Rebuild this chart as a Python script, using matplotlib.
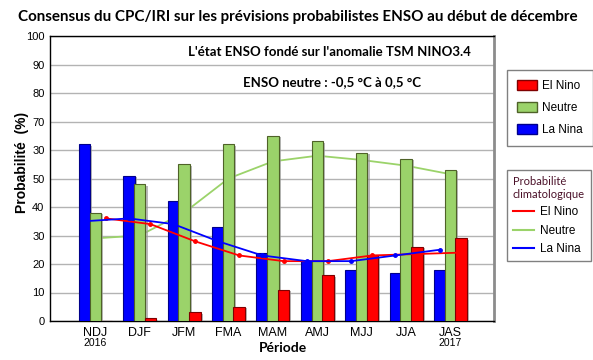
import matplotlib
matplotlib.use("Agg")
import matplotlib.pyplot as plt
import matplotlib.patheffects as pe
from matplotlib.patches import Patch
from matplotlib.lines import Line2D
import numpy as np

# ---- data ----
categories = ["NDJ", "DJF", "JFM", "FMA", "MAM", "AMJ", "MJJ", "JJA", "JAS"]
la_nina = [62, 51, 42, 33, 24, 21, 18, 17, 18]
neutre = [38, 48, 55, 62, 65, 63, 59, 57, 53]
el_nino = [0, 1, 3, 5, 11, 16, 23, 26, 29]
clim_el_nino = [36, 34, 28, 23, 21, 21, 23, 23.5, 24]
clim_neutre = [29, 30, 38, 50, 56, 58, 56.5, 54.5, 51.5]
clim_la_nina = [35, 36, 34, 28, 23, 21, 21, 23, 25]
ytick_values = [0, 10, 20, 30, 40, 50, 60, 70, 80, 90, 100]
ytick_labels = ["0", "10", "20", "30", "40", "50", "30", "70", "80", "90", "100"]
year_labels = {0: "2016", 8: "2017"}

RED = "#FF0000"
GREEN = "#9BD36A"
BLUE = "#0000FF"

fig = plt.figure(figsize=(5.93, 3.60), dpi=100)
ax = fig.add_axes([50/593, 1-321/360, (494-50)/593, (321-36)/360])

x = np.arange(len(categories))
w = 0.26
off = 0.24
shadow = [pe.SimplePatchShadow(offset=(1.5, -1.0), shadow_rgbFace="#9a9a9a", alpha=0.7), pe.Normal()]

ax.bar(x - off, la_nina, w, color=BLUE, edgecolor="#00008B", linewidth=0.8, zorder=3, path_effects=shadow)
ax.bar(x, neutre, w, color=GREEN, edgecolor="#4F6228", linewidth=0.8, zorder=3, path_effects=shadow)
ax.bar(x + off, el_nino, w, color=RED, edgecolor="#7F0000", linewidth=0.8, zorder=3.2, path_effects=shadow)

ax.plot(x, clim_neutre, color=GREEN, lw=1.3, zorder=2.5)
ax.plot(x + off, clim_el_nino, color=RED, lw=1.3, marker="o", ms=2.5, zorder=4)
ax.plot(x - off, clim_la_nina, color=BLUE, lw=1.3, marker="o", ms=2.5, zorder=4)

ax.set_xlim(-1.02, 8.98)
ax.set_ylim(0, 100)
ax.set_yticks(ytick_values)
ax.set_yticklabels(ytick_labels, fontsize=8, family="Liberation Sans")
ax.set_xticks(x)
ax.set_xticklabels(categories, fontsize=9, family="Liberation Sans")
ax.tick_params(axis="both", length=0, pad=4)
ax.yaxis.grid(True, color="#b3b3b3", lw=1.0, zorder=0)
ax.set_axisbelow(True)
for s in ["left", "bottom", "top"]:
    ax.spines[s].set_color("black")
    ax.spines[s].set_linewidth(1.0)
ax.spines["right"].set_color("#8c8c8c")
ax.spines["right"].set_linewidth(2.0)

for i, lab in year_labels.items():
    ax.text(x[i], -0.077, lab, transform=ax.get_xaxis_transform(), ha="center", va="center",
            fontsize=7.5, family="Liberation Sans")

fig.text(0.502, 1-17/360, "Consensus du CPC/IRI sur les prévisions probabilistes ENSO au début de décembre",
         ha="center", va="center", fontsize=10.9, fontweight="bold", family="Lato")
fig.text(329/593, 1-52/360, "L'état ENSO fondé sur l'anomalie TSM NINO3.4",
         ha="center", va="center", fontsize=9.5, fontweight="bold", family="Lato")
fig.text(332/593, 1-82/360, "ENSO neutre : -0,5 °C à 0,5 °C",
         ha="center", va="center", fontsize=9.5, fontweight="bold", family="Lato")
fig.text(22/593, 1-162/360, "Probabilité  (%)", rotation=90, ha="center", va="center",
         fontsize=10, fontweight="bold", family="Liberation Sans")
fig.text(283/593, 1-348/360, "Période", ha="center", va="center",
         fontsize=10, fontweight="bold", family="Lato")

h1 = [Patch(facecolor=RED, edgecolor="#7F0000"), Patch(facecolor=GREEN, edgecolor="#4F6228"),
      Patch(facecolor=BLUE, edgecolor="#00008B")]
leg1 = fig.legend(h1, ["El Nino", "Neutre", "La Nina"], loc="upper left",
                  bbox_to_anchor=(507/593, 1-70/360), bbox_transform=fig.transFigure,
                  prop={"family": "Liberation Sans", "size": 8.5}, fancybox=False,
                  edgecolor="#808080", framealpha=1, handlelength=1.7, handleheight=0.9,
                  labelspacing=0.85, borderpad=0.85, handletextpad=0.45, borderaxespad=0)
leg1.get_frame().set_linewidth(1.0)

h2 = [Line2D([], [], color=RED, lw=1.5), Line2D([], [], color=GREEN, lw=1.5),
      Line2D([], [], color=BLUE, lw=1.5)]
leg2 = fig.legend(h2, ["El Nino", "Neutre", "La Nina"], loc="upper left",
                  bbox_to_anchor=(507/593, 1-170/360), bbox_transform=fig.transFigure,
                  title="Probabilité\nclimatologique",
                  title_fontproperties={"family": "Lato", "size": 8},
                  prop={"family": "Liberation Sans", "size": 8.5}, fancybox=False,
                  edgecolor="#808080", framealpha=1, handlelength=1.8,
                  labelspacing=0.55, borderpad=0.5, handletextpad=0.5, borderaxespad=0,
                  alignment="left")
leg2.get_title().set_color("#4a1028")
leg2.get_frame().set_linewidth(1.0)

fig.savefig("out.png", dpi=100)
